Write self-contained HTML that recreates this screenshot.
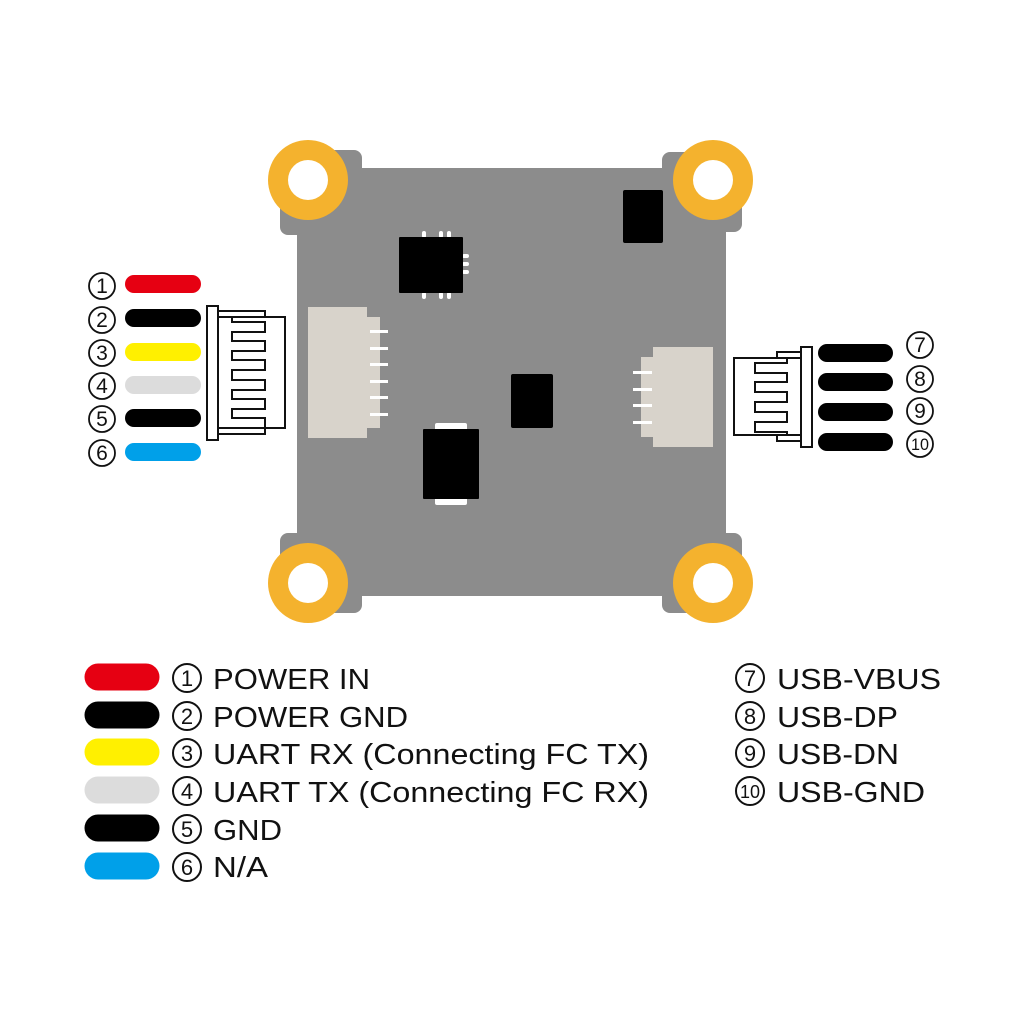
<!DOCTYPE html>
<html><head><meta charset="utf-8"><style>
html,body{margin:0;padding:0;background:#fff;}
svg{display:block;}
text{font-family:"Liberation Sans","DejaVu Sans",sans-serif;fill:#111;}
</style></head><body>
<svg width="1024" height="1024" viewBox="0 0 1024 1024" xmlns="http://www.w3.org/2000/svg">
<rect width="1024" height="1024" fill="#fff"/>
<!-- board -->
<g fill="#8c8c8c">
<rect x="297" y="168" width="429" height="428" rx="8"/>
<rect x="280" y="150" width="82" height="85" rx="8"/>
<rect x="662" y="152" width="80" height="80" rx="8"/>
<rect x="280" y="533" width="82" height="80" rx="8"/>
<rect x="662" y="533" width="80" height="80" rx="8"/>
</g>
<!-- pads -->
<g fill="#f4b22e">
<circle cx="308" cy="180" r="40"/><circle cx="713" cy="180" r="40"/>
<circle cx="308" cy="583" r="40"/><circle cx="713" cy="583" r="40"/>
</g>
<g fill="#fff">
<circle cx="308" cy="180" r="20"/><circle cx="713" cy="180" r="20"/>
<circle cx="308" cy="583" r="20"/><circle cx="713" cy="583" r="20"/>
</g>
<!-- chips -->
<g fill="#fff">
<rect x="422" y="231" width="4" height="7" rx="2"/><rect x="439" y="231" width="4" height="7" rx="2"/><rect x="447" y="231" width="4" height="7" rx="2"/>
<rect x="422" y="292" width="4" height="7" rx="2"/><rect x="439" y="292" width="4" height="7" rx="2"/><rect x="447" y="292" width="4" height="7" rx="2"/>
<rect x="462" y="254" width="7" height="4" rx="2"/><rect x="462" y="262" width="7" height="4" rx="2"/><rect x="462" y="270" width="7" height="4" rx="2"/>
<rect x="435" y="423" width="32" height="8" rx="2"/><rect x="435" y="497" width="32" height="8" rx="2"/>
</g>
<g fill="#000">
<rect x="399" y="237" width="64" height="56" rx="1"/>
<rect x="623" y="190" width="40" height="53" rx="2"/>
<rect x="511" y="374" width="42" height="54" rx="2"/>
<rect x="423" y="429" width="56" height="70" rx="1"/>
</g>
<!-- board connectors -->
<g fill="#d8d3cb">
<rect x="308" y="307" width="59" height="131"/>
<rect x="366" y="317" width="14" height="111"/>
<rect x="653" y="347" width="60" height="100"/>
<rect x="641" y="357" width="14" height="80"/>
</g>
<g fill="#fff">
<rect x="370" y="330" width="18" height="3"/><rect x="370" y="347" width="18" height="3"/><rect x="370" y="363" width="18" height="3"/>
<rect x="370" y="380" width="18" height="3"/><rect x="370" y="396" width="18" height="3"/><rect x="370" y="413" width="18" height="3"/>
<rect x="633" y="371" width="19" height="3"/><rect x="633" y="388" width="19" height="3"/><rect x="633" y="404" width="19" height="3"/><rect x="633" y="421" width="19" height="3"/>
</g>
<!-- left external connector -->
<g fill="none" stroke="#111" stroke-width="2">
<rect x="207" y="306" width="11" height="134"/>
<rect x="218" y="311" width="47" height="6"/>
<rect x="218" y="428" width="47" height="6"/>
<rect x="218" y="317" width="67" height="111"/>
<path d="M232,317 V322 H265 V332 H232 V341 H265 V351 H232 V360 H265 V370 H232 V380 H265 V390 H232 V399 H265 V409 H232 V418 H265 V428"/>
</g>
<!-- right external connector -->
<g fill="none" stroke="#111" stroke-width="2">
<rect x="801" y="347" width="11" height="100"/>
<rect x="777" y="352" width="24" height="6"/>
<rect x="777" y="435" width="24" height="6"/>
<rect x="734" y="358" width="67" height="77"/>
<path d="M787,358 V363 H755 V373 H787 V382 H755 V392 H787 V402 H755 V412 H787 V422 H755 V432 H787 V435"/>
</g>
<!-- left wires -->
<g stroke-linecap="round" stroke-width="18">
<line x1="134" y1="284" x2="192" y2="284" stroke="#e60012"/>
<line x1="134" y1="318" x2="192" y2="318" stroke="#000"/>
<line x1="134" y1="352" x2="192" y2="352" stroke="#fff000"/>
<line x1="134" y1="385" x2="192" y2="385" stroke="#dcdcdc"/>
<line x1="134" y1="418" x2="192" y2="418" stroke="#000"/>
<line x1="134" y1="452" x2="192" y2="452" stroke="#00a0e9"/>
<line x1="827" y1="353" x2="884" y2="353" stroke="#000"/>
<line x1="827" y1="382" x2="884" y2="382" stroke="#000"/>
<line x1="827" y1="412" x2="884" y2="412" stroke="#000"/>
<line x1="827" y1="442" x2="884" y2="442" stroke="#000"/>
</g>
<!-- circled numbers near connectors -->
<g fill="none" stroke="#111" stroke-width="1.8">
<circle cx="102" cy="286" r="13"/><circle cx="102" cy="320" r="13"/><circle cx="102" cy="353" r="13"/>
<circle cx="102" cy="386" r="13"/><circle cx="102" cy="419" r="13"/><circle cx="102" cy="453" r="13"/>
<circle cx="920" cy="345" r="13"/><circle cx="920" cy="379" r="13"/><circle cx="920" cy="411" r="13"/><circle cx="920" cy="444" r="13"/>
</g>
<g font-size="21" text-anchor="middle">
<text x="102" y="293">1</text><text x="102" y="327">2</text><text x="102" y="360">3</text>
<text x="102" y="393">4</text><text x="102" y="426">5</text><text x="102" y="460">6</text>
<text x="920" y="352">7</text><text x="920" y="386">8</text><text x="920" y="418">9</text>
<text x="920" y="450" font-size="17" textLength="18" lengthAdjust="spacingAndGlyphs">10</text>
</g>
<!-- legend pills -->
<g stroke-linecap="round" stroke-width="27">
<line x1="98" y1="677" x2="146" y2="677" stroke="#e60012"/>
<line x1="98" y1="715" x2="146" y2="715" stroke="#000"/>
<line x1="98" y1="752" x2="146" y2="752" stroke="#fff000"/>
<line x1="98" y1="790" x2="146" y2="790" stroke="#dcdcdc"/>
<line x1="98" y1="828" x2="146" y2="828" stroke="#000"/>
<line x1="98" y1="866" x2="146" y2="866" stroke="#00a0e9"/>
</g>
<g fill="none" stroke="#111" stroke-width="2">
<circle cx="187" cy="678" r="14"/><circle cx="187" cy="716" r="14"/><circle cx="187" cy="753" r="14"/>
<circle cx="187" cy="791" r="14"/><circle cx="187" cy="829" r="14"/><circle cx="187" cy="867" r="14"/>
<circle cx="750" cy="678" r="14"/><circle cx="750" cy="716" r="14"/><circle cx="750" cy="753" r="14"/><circle cx="750" cy="791" r="14"/>
</g>
<g font-size="22" text-anchor="middle">
<text x="187" y="686">1</text><text x="187" y="724">2</text><text x="187" y="761">3</text>
<text x="187" y="799">4</text><text x="187" y="837">5</text><text x="187" y="875">6</text>
<text x="750" y="686">7</text><text x="750" y="724">8</text><text x="750" y="761">9</text>
<text x="750" y="798" font-size="18" textLength="20" lengthAdjust="spacingAndGlyphs">10</text>
</g>
<g font-size="29">
<text x="213" y="689" textLength="157" lengthAdjust="spacingAndGlyphs">POWER IN</text>
<text x="213" y="727" textLength="195" lengthAdjust="spacingAndGlyphs">POWER GND</text>
<text x="213" y="764" textLength="436" lengthAdjust="spacingAndGlyphs">UART RX (Connecting FC TX)</text>
<text x="213" y="802" textLength="436" lengthAdjust="spacingAndGlyphs">UART TX (Connecting FC RX)</text>
<text x="213" y="840" textLength="69" lengthAdjust="spacingAndGlyphs">GND</text>
<text x="213" y="877" textLength="55" lengthAdjust="spacingAndGlyphs">N/A</text>
<text x="777" y="689" textLength="164" lengthAdjust="spacingAndGlyphs">USB-VBUS</text>
<text x="777" y="727" textLength="121" lengthAdjust="spacingAndGlyphs">USB-DP</text>
<text x="777" y="764" textLength="122" lengthAdjust="spacingAndGlyphs">USB-DN</text>
<text x="777" y="802" textLength="148" lengthAdjust="spacingAndGlyphs">USB-GND</text>
</g>
</svg>
</body></html>
